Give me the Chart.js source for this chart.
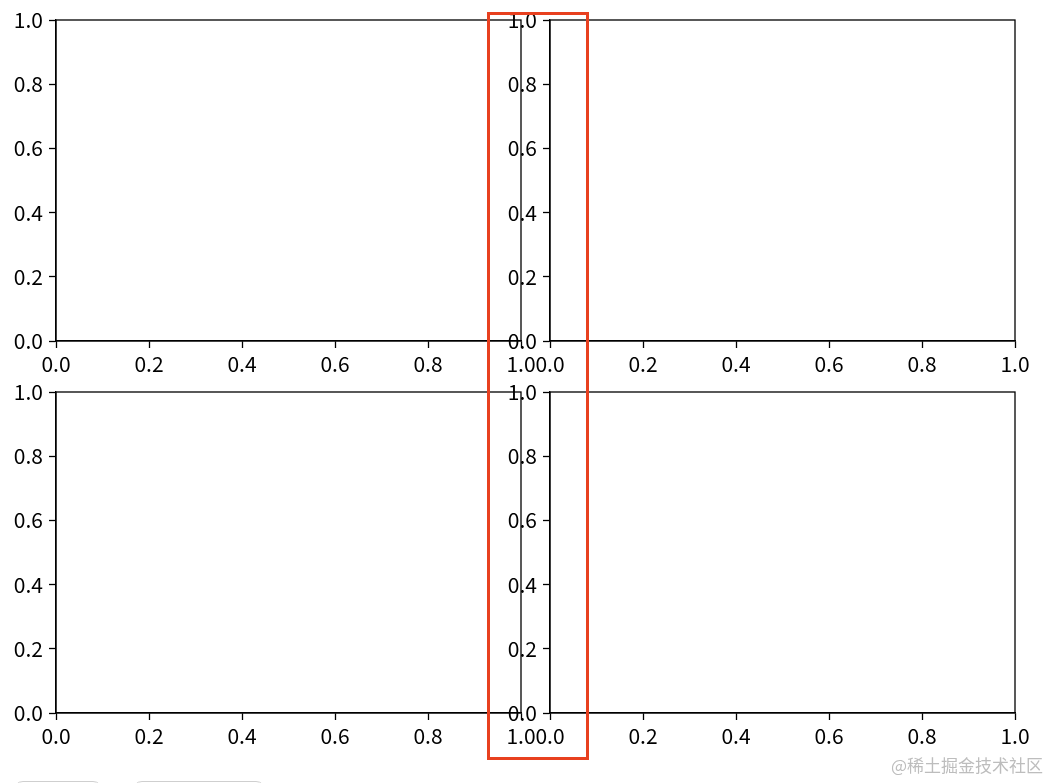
<!DOCTYPE html>
<html>
<head>
<meta charset="utf-8">
<script src="https://cdn.jsdelivr.net/npm/chart.js@4/dist/chart.umd.min.js"></script>
<style>
  html, body { margin: 0; padding: 0; background: #fff; }
  #stage { position: relative; width: 1056px; height: 783px; overflow: hidden; background: #fff; }
  #stage canvas { position: absolute; }
  .mark { position: absolute; left: 487px; top: 12px; width: 102px; height: 748px;
          box-sizing: border-box; border: 3px solid #e8401f; }
  .watermark { position: absolute; left: 891px; top: 752px; font: 17px "Noto Sans CJK SC", sans-serif;
               color: #bdbdbd; white-space: nowrap; }
  .btn { position: absolute; top: 781px; height: 20px; box-sizing: border-box;
         border: 1px solid #cfcfcf; border-radius: 10px; }
</style>
</head>
<body>
<div id="stage">
  <canvas id="ax1" width="561" height="391"></canvas>
  <canvas id="ax2" width="561" height="391"></canvas>
  <canvas id="ax3" width="561" height="391"></canvas>
  <canvas id="ax4" width="561" height="391"></canvas>
  <div class="mark"></div>
  <div class="watermark">@稀土掘金技术社区</div>
  <div class="btn" style="left:13px;width:90px"></div>
  <div class="btn" style="left:132px;width:134px"></div>
</div>
<script>
// 2x2 subplots, all empty, default 0..1 limits
const X_TICKS = [0.0, 0.2, 0.4, 0.6, 0.8, 1.0];
const Y_TICKS = [0.0, 0.2, 0.4, 0.6, 0.8, 1.0];
const SERIES = [];

// plot area corners (left, top) for each subplot
const PANELS = [
  { id: 'ax1', left: 56, top: 20 },
  { id: 'ax2', left: 550, top: 20 },
  { id: 'ax3', left: 56, top: 392 },
  { id: 'ax4', left: 550, top: 392 }
];

const FONT = { family: '"Noto Sans CJK SC", "Noto Sans", sans-serif', size: 21 };
const LINE = 1.3;

// draws the top and right spines so each axes is boxed in
const framePlugin = {
  id: 'frame',
  afterDraw(chart) {
    const { ctx, chartArea: a } = chart;
    ctx.save();
    ctx.strokeStyle = '#000';
    ctx.lineWidth = LINE;
    ctx.strokeRect(a.left, a.top, a.right - a.left, a.bottom - a.top);
    ctx.restore();
  }
};

function axisOptions(position, ticks, size) {
  return {
    type: 'linear',
    position,
    min: 0,
    max: 1,
    afterBuildTicks: scale => { scale.ticks = ticks.map(v => ({ value: v })); },
    afterFit: scale => {
      if (position === 'left') scale.width = size;
      else scale.height = size;
    },
    ticks: {
      callback: v => v.toFixed(1),
      color: '#000',
      font: FONT,
      padding: position === 'left' ? 6 : 3,
      autoSkip: false,
      maxRotation: 0
    },
    grid: {
      display: true,
      drawOnChartArea: false,
      drawTicks: true,
      tickLength: 7,
      tickWidth: LINE,
      color: '#000'
    },
    border: { display: true, color: '#000', width: LINE }
  };
}

function buildPanel(panel) {
  const canvas = document.getElementById(panel.id);
  canvas.style.left = (panel.left - 56) + 'px';
  canvas.style.top = (panel.top - 20) + 'px';

  new Chart(canvas.getContext('2d'), {
    type: 'scatter',
    data: { datasets: [{ data: SERIES }] },
    options: {
      responsive: false,
      animation: false,
      devicePixelRatio: 1,
      layout: { padding: { left: 0, top: 20, right: 40, bottom: 5 } },
      plugins: { legend: { display: false }, tooltip: { enabled: false } },
      scales: {
        x: axisOptions('bottom', X_TICKS, 45),
        y: axisOptions('left', Y_TICKS, 56)
      }
    },
    plugins: [framePlugin]
  });
}

PANELS.forEach(buildPanel);
</script>
</body>
</html>
